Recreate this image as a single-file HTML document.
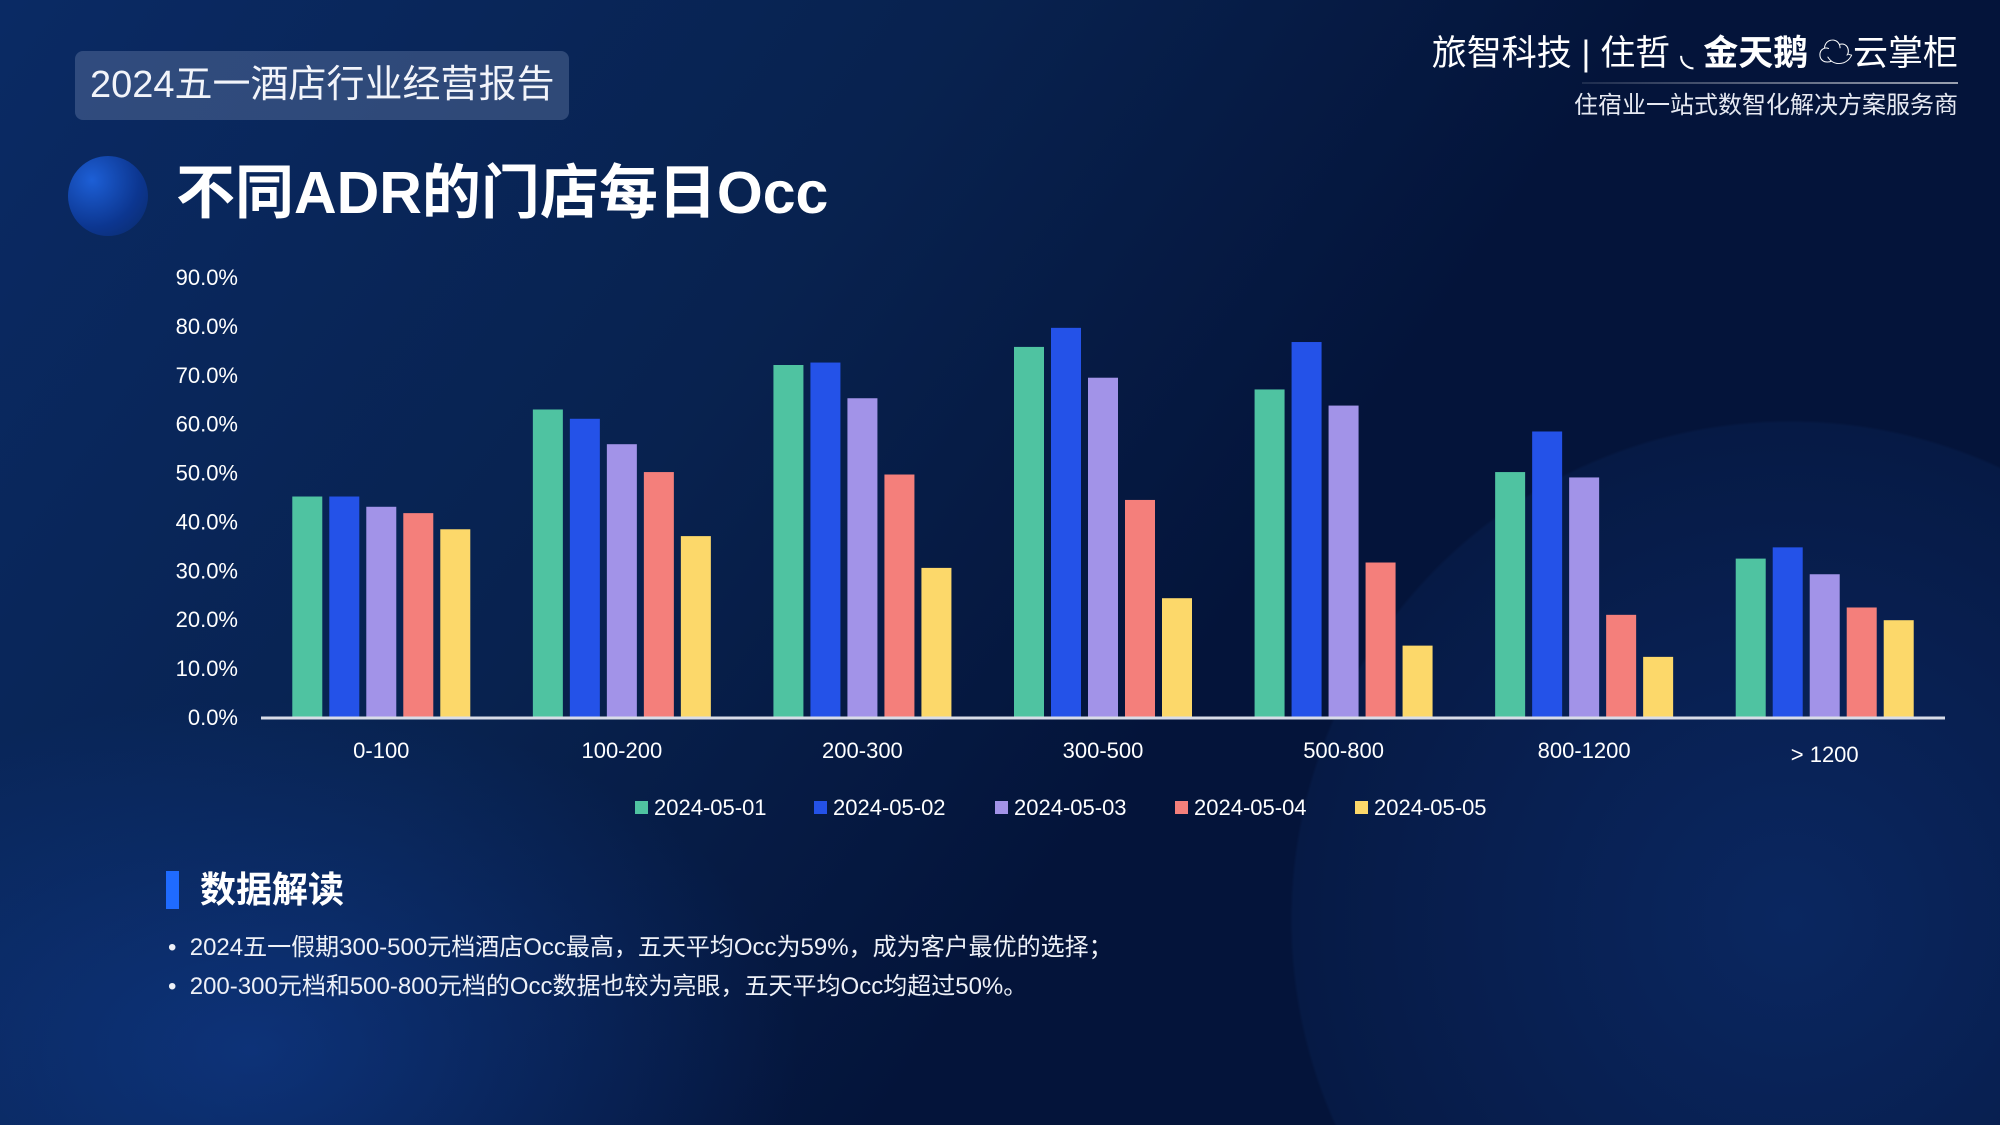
<!DOCTYPE html>
<html><head><meta charset="utf-8">
<style>
html,body{margin:0;padding:0;width:2000px;height:1125px;overflow:hidden;background:#04143a}
#wrap{width:2000px;height:1125px;overflow:hidden;position:relative;font-family:"Liberation Sans","Noto Sans CJK SC",sans-serif;color:#fff;
background:
radial-gradient(circle 500px at 1790px 920px,#0a2760 0%,#081f50 60%,#061a45 99.4%,rgba(6,26,69,0) 100%),
radial-gradient(ellipse 550px 350px at 250px 1050px,rgba(20,70,170,0.45),rgba(20,70,170,0)),
linear-gradient(125deg,#0a2a64 0%,#08224f 35%,#04143a 60%,#04143a 100%);}
.abs{position:absolute}
</style></head>
<body>
<div id="wrap">

<div class="abs" style="left:75px;top:51px;width:494px;height:69px;border-radius:8px;background:rgba(120,140,180,0.35);"></div>
<div class="abs" style="left:90px;top:60px;font-size:38px;line-height:50px;color:#f2f4fa;">2024五一酒店行业经营报告</div>

<div class="abs" style="left:68px;top:156px;width:80px;height:80px;border-radius:50%;background:radial-gradient(circle at 30% 30%,#1d5fd6,#0c3690 60%,#0a2a66);"></div>
<div class="abs" style="left:176px;top:157px;font-size:59px;font-weight:bold;line-height:72px;">不同ADR的门店每日Occ</div>

<div class="abs" style="right:42px;top:32px;font-size:35px;line-height:44px;white-space:nowrap;">旅智科技 | 住哲 ◟ <b>金天鹅</b> ☁云掌柜</div>
<div class="abs" style="left:1582px;top:82px;width:376px;height:2px;background:linear-gradient(90deg,rgba(255,255,255,0.1),rgba(255,255,255,0.6));"></div>
<div class="abs" style="right:42px;top:90px;font-size:24px;line-height:32px;color:#e6e9f2;">住宿业一站式数智化解决方案服务商</div>

<svg class="abs" style="left:0;top:0" width="2000" height="1125" id="chart"></svg>

<div class="abs" style="left:166px;top:871px;width:13px;height:38px;background:#1f6bff;"></div>
<div class="abs" style="left:200px;top:868px;font-size:36px;font-weight:bold;line-height:44px;">数据解读</div>
<div class="abs" style="left:168px;top:932px;font-size:24px;line-height:32px;color:#eef1f8;">•&nbsp;&nbsp;2024五一假期300-500元档酒店Occ最高，五天平均Occ为59%，成为客户最优的选择；</div>
<div class="abs" style="left:168px;top:971px;font-size:24px;line-height:32px;color:#eef1f8;">•&nbsp;&nbsp;200-300元档和500-800元档的Occ数据也较为亮眼，五天平均Occ均超过50%。</div>
</div>

<script>
const categories=["0-100","100-200","200-300","300-500","500-800","800-1200","> 1200"];
const seriesNames=["2024-05-01","2024-05-02","2024-05-03","2024-05-04","2024-05-05"];
const s1=[45.1,62.9,72.0,75.7,67.0,50.1,32.4];
const s2=[45.1,61.0,72.5,79.6,76.7,58.4,34.7];
const s3=[43.0,55.8,65.2,69.4,63.7,49.0,29.2];
const s4=[41.7,50.1,49.6,44.4,31.6,20.9,22.4];
const s5=[38.4,37.0,30.5,24.3,14.6,12.3,19.8];
const yTicks=[0,10,20,30,40,50,60,70,80,90];
const colors=["#4fc3a1","#2452e8","#a293e8","#f47f7b","#fcd86a"];
const series=[s1,s2,s3,s4,s5];

const svg=document.getElementById('chart');
const NS="http://www.w3.org/2000/svg";
const x0=261,x1=1945,yBase=717,yTop=277,yMax=90;
const band=(x1-x0)/categories.length;
const yScale=v=>yBase-(v/yMax)*(yBase-yTop);
const xCenter=i=>x0+band*(i+0.5);
const bw=30,step=37;
function mk(tag,attrs){const e=document.createElementNS(NS,tag);for(const k in attrs)e.setAttribute(k,attrs[k]);svg.appendChild(e);return e;}

yTicks.forEach(t=>{
  const e=mk('text',{x:238,y:yScale(t)+8,'text-anchor':'end','font-size':22,fill:'#ffffff','font-family':'Liberation Sans, sans-serif'});
  
  
  e.textContent=t.toFixed(1)+'%';
});
series.forEach((s,si)=>{
  s.forEach((v,ci)=>{
    const x=xCenter(ci)+(si-2)*step-bw/2;
    const r=mk('rect',{x:x,y:yScale(v),width:bw,height:yBase-yScale(v),fill:colors[si]});
    
    
  });
});
const ax=mk('line',{x1:x0,x2:x1,y1:yBase+1,y2:yBase+1,stroke:'#d8dce8','stroke-width':3});


categories.forEach((c,ci)=>{
  const e=mk('text',{x:xCenter(ci),y:c.startsWith('>')?762:758,'text-anchor':'middle','font-size':22,fill:'#ffffff','font-family':'Liberation Sans, sans-serif'});
  
  
  e.textContent=c;
});
const legX=[635,814,995,1175,1355];
seriesNames.forEach((n,i)=>{
  const r=mk('rect',{x:legX[i],y:801,width:13,height:13,fill:colors[i]});
  
  
  const t=mk('text',{x:legX[i]+19,y:815,'font-size':22,fill:'#ffffff','font-family':'Liberation Sans, sans-serif'});
  
  
  t.textContent=n;
});
</script>
</body></html>
